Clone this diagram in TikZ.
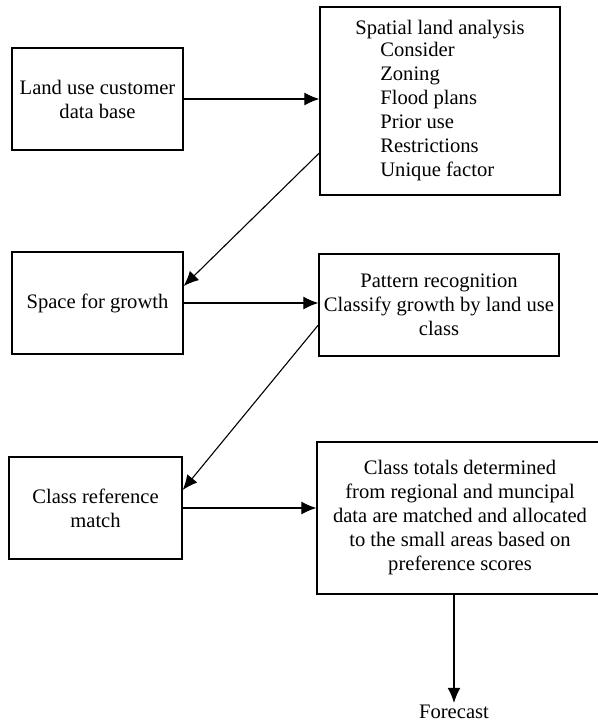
\documentclass[tikz,border=0pt]{standalone}
\usepackage{fontspec}
\setmainfont{Liberation Serif}
\usepackage{xcolor}
\usepackage{tikz}
\usetikzlibrary{positioning,arrows.meta}

\tikzset{
  stage/.style={draw, line width=0.7pt, align=center, inner sep=2pt,
    font=\fontsize{10.3}{12}\selectfont},
  flow/.style={-{Latex[length=7.5pt,width=6.5pt]}, line width=0.55pt}
}

\begin{document}
\begin{tikzpicture}[x=0.5pt, y=-0.5pt]
\useasboundingbox (0,0) rectangle (598,723);

% left column
\node[stage, minimum width=85.5pt, minimum height=51pt] (land) at (97.5,99) {Land use customer\\data base};
\node[stage, minimum width=85.5pt, minimum height=51pt] (space) at (97.5,303) {Space for growth};
\node[stage, minimum width=86.5pt, minimum height=51pt] (classref) at (95.5,508) {Class reference\\match};

% right column
\node[stage, align=left, minimum width=120pt, minimum height=94pt] (spatial) at (440,101)
  {Spatial land analysis\\[-1pt]
   \hspace{12.5pt}Consider\\
   \hspace{12.5pt}Zoning\\
   \hspace{12.5pt}Flood plans\\
   \hspace{12.5pt}Prior use\\
   \hspace{12.5pt}Restrictions\\
   \hspace{12.5pt}Unique factor};
\node[stage, minimum width=120pt, minimum height=51pt] (pattern) at (439,305)
  {Pattern recognition\\Classify growth by land use\\class};
\node[stage, minimum width=143pt, minimum height=76pt] (totals) at (460,518)
  {Class totals determined\\from regional and muncipal\\data are matched and allocated\\to the small areas based on\\preference scores};
\node[font=\fontsize{10.3}{12}\selectfont, inner sep=1pt] (forecast) at (454,712) {Forecast};

% connectors
\draw[flow] (land.east) -- (land.east -| spatial.west);
\draw[flow] ([yshift=-26pt]spatial.west) -- ([yshift=8.5pt]space.east);
\draw[flow] (space.east) -- (space.east -| pattern.west);
\draw[flow] ([yshift=-10pt]pattern.west) -- ([yshift=9pt]classref.east);
\draw[flow] (classref.east) -- (classref.east -| totals.west);
\draw[flow] (totals.south -| forecast) -- (forecast.north);
\end{tikzpicture}
\end{document}
